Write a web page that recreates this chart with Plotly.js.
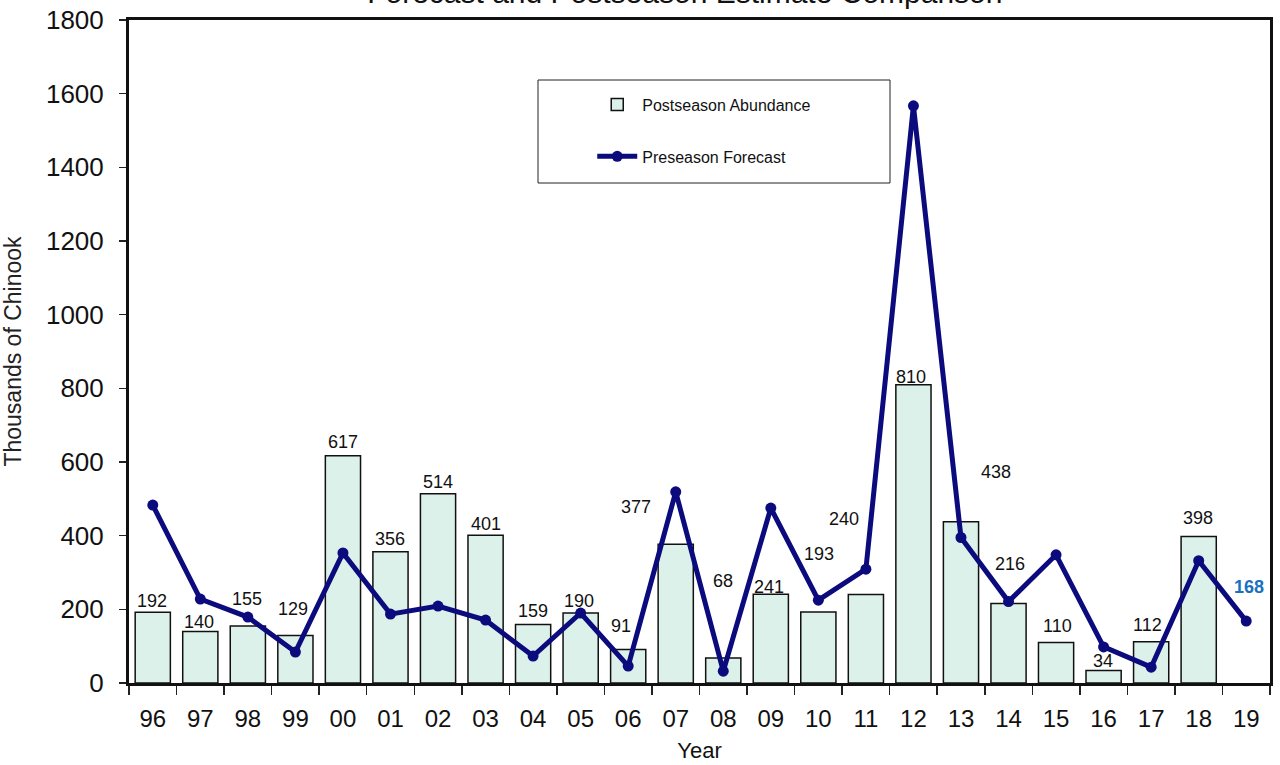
<!DOCTYPE html>
<html>
<head>
<meta charset="utf-8">
<script src="https://cdn.plot.ly/plotly-3.0.1.min.js"></script>
<style>html,body{margin:0;padding:0;background:#fff;}#chart{width:1280px;height:765px;}</style>
</head>
<body>
<div id="chart"></div>
<script>
// Data
const years = ['96','97','98','99','00','01','02','03','04','05','06','07','08','09','10','11','12','13','14','15','16','17','18','19'];
const barYears = years.slice(0, 23);
const postseason = [192,140,155,129,617,356,514,401,159,190,91,377,68,241,193,240,810,438,216,110,34,112,398];
const preseason = [483,228,179,84,353,187,209,171,73,190,46,519,32,475,225,309,1567,395,221,348,98,43,332,168];

// Label offsets (styling only, pixels)
const labelDx = [-1,-1,-1,-2,0,0,0,0,0,-2,-7,-40,0,-2,1,-22,-2,35,1,1,-1,-4,-1];
const labelDy = [-1,-3,15,14,2,1,0,-1,1,0,11,25,65,-5,46,64,-4,38,27,4,-3,5,6];

const bars = {
  type: 'bar', x: barYears, y: postseason, name: 'Postseason Abundance',
  width: 0.74,
  marker: {color: '#dcf1e9', line: {color: '#111', width: 1.5}},
  legendgroup: 'a'
};
const line = {
  type: 'scatter', mode: 'lines+markers', x: years, y: preseason, name: 'Preseason Forecast',
  line: {color: '#0b0b7e', width: 5},
  marker: {color: '#0b0b7e', size: 11},
  legendgroup: 'b'
};

const FONT = 'Liberation Sans, Arial, sans-serif';
// annotations use category index so that labels like '00' are not read as numbers
const annotations = postseason.map((v, i) => ({
  x: i, y: v, xref: 'x', yref: 'y', text: String(v), showarrow: false,
  yanchor: 'bottom', xshift: labelDx[i], yshift: labelDy[i],
  font: {family: FONT, size: 18, color: '#111'}
}));
annotations.push({
  x: years.length - 1, y: preseason[preseason.length - 1], xref: 'x', yref: 'y',
  text: '<b>' + preseason[preseason.length - 1] + '</b>', showarrow: false,
  yanchor: 'bottom', xshift: 3, yshift: 22,
  font: {family: FONT, size: 18, color: '#1a6fbf'}
});

const layout = {
  width: 1280, height: 765,
  margin: {l: 129, r: 10, t: 20, b: 82},
  paper_bgcolor: '#fff', plot_bgcolor: '#fff',
  title: {text: 'Forecast and Postseason Estimate Comparison', x: 0.535, xanchor: 'center',
          yref: 'container', y: 0.996, yanchor: 'bottom',
          font: {family: FONT, size: 30, color: '#111'}},
  showlegend: true,
  legend: {x: 0.406, y: 0.898, xanchor: 'left', yanchor: 'top', bgcolor: 'rgba(0,0,0,0)',
           borderwidth: 0, tracegroupgap: 28, traceorder: 'grouped', itemwidth: 40,
           font: {family: FONT, size: 16, color: '#111'}},
  xaxis: {type: 'category', range: [-0.5, 23.5], tickson: 'boundaries', ticks: 'outside', ticklen: 9,
          tickcolor: '#222', tickwidth: 1.5, showline: true, linecolor: '#111', linewidth: 3, mirror: true,
          showgrid: false, zeroline: false, ticklabelstandoff: 12,
          tickfont: {family: FONT, size: 24, color: '#111'},
          title: {text: 'Year', standoff: 12, font: {family: FONT, size: 22, color: '#111'}}},
  yaxis: {range: [0, 1800], dtick: 200, ticks: 'outside', ticklen: 7, tickcolor: '#222', tickwidth: 1.5,
          showline: true, linecolor: '#111', linewidth: 3, mirror: true, showgrid: false, zeroline: false,
          ticklabelstandoff: 10,
          tickfont: {family: FONT, size: 26, color: '#111'},
          title: {text: 'Thousands of Chinook', standoff: 18,
                  font: {family: 'Liberation Sans Narrow, Arial Narrow, ' + FONT, size: 23, color: '#222'}}},
  shapes: [{type: 'rect', xref: 'paper', yref: 'paper', x0: (538-129)/1141, x1: (890-129)/1141,
            y0: (683-183)/663, y1: (683-80)/663, line: {color: '#222', width: 1}, fillcolor: 'rgba(0,0,0,0)'}],
  annotations: annotations
};
Plotly.newPlot('chart', [bars, line], layout, {displayModeBar: false, staticPlot: true});
</script>
</body>
</html>
